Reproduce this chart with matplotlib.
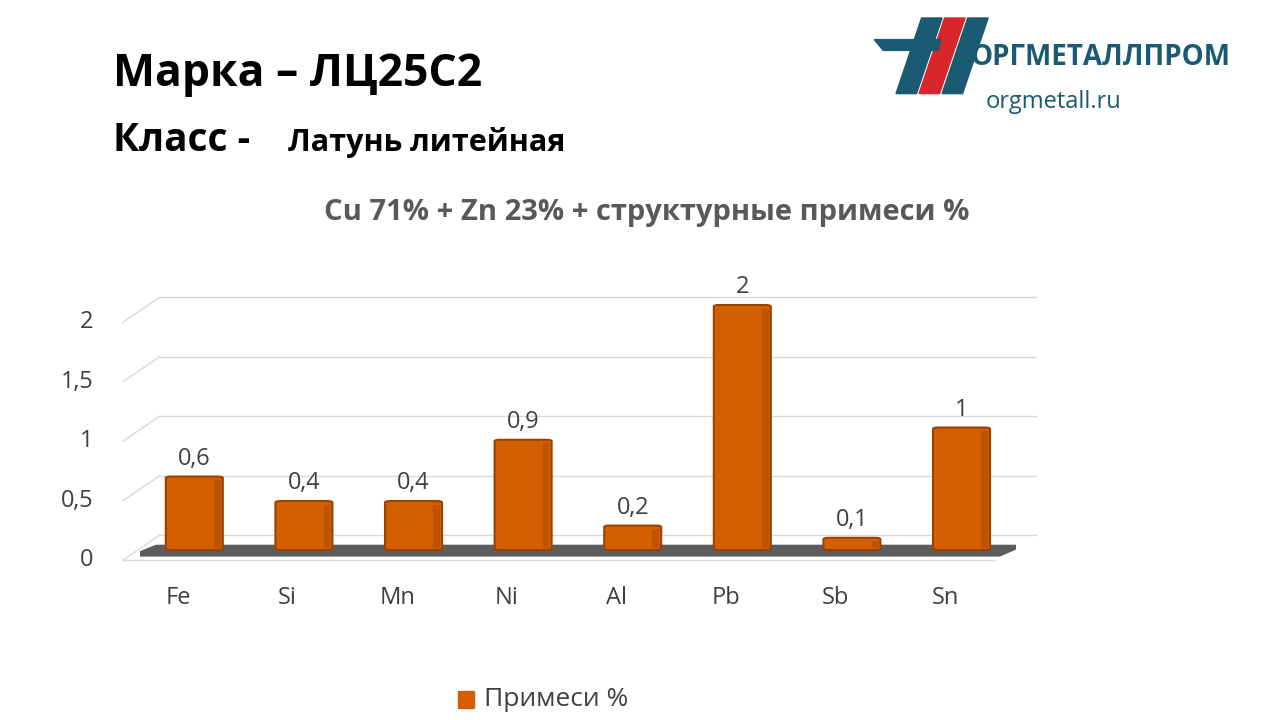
import matplotlib
matplotlib.use("Agg")
import matplotlib.pyplot as plt
from matplotlib.patches import Polygon, FancyBboxPatch, Rectangle
from matplotlib.transforms import ScaledTranslation

elements = ["Fe", "Si", "Mn", "Ni", "Al", "Pb", "Sb", "Sn"]
values = [0.6, 0.4, 0.4, 0.9, 0.2, 2.0, 0.1, 1.0]
labels = ["0,6", "0,4", "0,4", "0,9", "0,2", "2", "0,1", "1"]
yticks = [0, 0.5, 1, 1.5, 2]
yticklabels = ["0", "0,5", "1", "1,5", "2"]

FONT = "Open Sans"
fig = plt.figure(figsize=(12.8, 7.2), dpi=100)
fig.patch.set_facecolor("white")

# headings
fig.text(0.088, 0.897, "Марка – ЛЦ25С2", fontsize=32, fontweight="bold", family=FONT, va="center")
fig.text(0.088, 0.805, "Класс -", fontsize=28, fontweight="bold", family=FONT, va="center")
fig.text(0.225, 0.802, "Латунь литейная", fontsize=22, fontweight="bold", family=FONT, va="center")
fig.text(0.505, 0.705, "Cu 71% + Zn 23% + структурные примеси %", fontsize=21,
         fontweight="bold", color="#595959", family=FONT, ha="center", va="center")

# logo
for dx, c in [(0, "#1a5a73"), (0.018, "#d9262b"), (0.036, "#1a5a73")]:
    fig.patches.append(Polygon([(0.700 + dx, 0.87), (0.716 + dx, 0.87), (0.736 + dx, 0.975),
                                (0.720 + dx, 0.975)], closed=True, color=c,
                               transform=fig.transFigure))
fig.patches.append(Polygon([(0.683, 0.945), (0.735, 0.945), (0.733, 0.93), (0.690, 0.93)],
                           closed=True, color="#1a5a73", transform=fig.transFigure))
fig.text(0.758, 0.92, "ОРГМЕТАЛЛПРОМ", fontsize=20, fontweight="bold", color="#1a5a73",
         family=FONT, va="center")
fig.text(0.77, 0.858, "orgmetall.ru", fontsize=17, color="#1a5a73", family=FONT, va="center")

ax = fig.add_axes([0.109, 0.222, 0.685, 0.38])
ax.set_xlim(-0.5, 7.5)
ax.set_ylim(0, 2.3)
ax.axis("off")

off = ax.transData + ScaledTranslation(0.2, 0.25, fig.dpi_scale_trans)
for v, tl in zip(yticks, yticklabels):
    ax.plot([-0.5, 7.5], [v, v], color="#d9d9d9", lw=1, transform=off, clip_on=False)
    ax.text(-0.92, v, tl, ha="right", va="center", fontsize=17, color="#404040", family=FONT)
    x0, y0 = ax.transData.transform((-0.65, v))
    x1, y1 = off.transform((-0.5, v))
    fig.add_artist(plt.Line2D([x0 / 1280, x1 / 1280], [y0 / 720, y1 / 720],
                              color="#d9d9d9", lw=1, transform=fig.transFigure))
ax.plot([-0.65, 7.3], [0, 0], color="#d9d9d9", lw=1, clip_on=False)

# floor shadow
ax.add_patch(Polygon([(-0.62, 0.03), (7.35, 0.03), (7.6, 0.13), (-0.35, 0.13)], closed=True,
                     color="#333333", alpha=0.8, zorder=1, lw=0))

base = 0.085
w = 0.52
for i, (v, lab) in enumerate(zip(values, labels)):
    h = v * 1.03
    ax.add_patch(FancyBboxPatch((i - w / 2, base), w, h,
                                boxstyle="round,pad=0,rounding_size=0.05",
                                mutation_aspect=0.25,
                                fc="#d35f00", ec="#9a4200", lw=1.5, zorder=3))
    ax.add_patch(Rectangle((i + w / 2 - 0.08, base + 0.02), 0.06, max(h - 0.05, 0),
                           fc="#a84800", lw=0, zorder=4, alpha=0.5))
    ax.text(i, base + h + 0.05, lab, ha="center", va="bottom", fontsize=17,
            color="#404040", family=FONT, zorder=5)
    ax.text(i - 0.15, -0.22, elements[i], ha="center", va="top", fontsize=17,
            color="#404040", family=FONT)

fig.patches.append(Rectangle((0.358, 0.016), 0.012, 0.024, color="#d35f00",
                             transform=fig.transFigure))
fig.text(0.378, 0.028, "Примеси %", fontsize=19, color="#404040", family=FONT, va="center")

fig.savefig("out.png", dpi=100)
